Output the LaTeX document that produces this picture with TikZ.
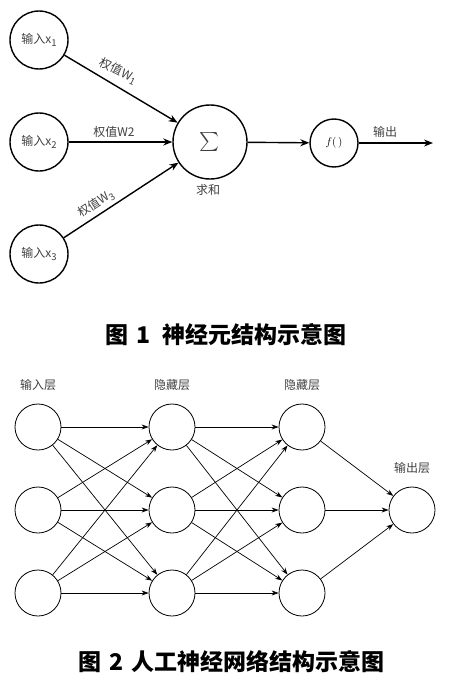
\documentclass[tikz,border=0pt]{standalone}
\usepackage{fontspec}
\setmainfont{Noto Sans CJK SC}
\usetikzlibrary{arrows.meta}
\newcommand{\lowsub}[1]{\raisebox{-2.5pt}{\fontsize{9.5}{10}\selectfont #1}}
\begin{document}
\begin{tikzpicture}[x=1pt,y=-1pt,
  neuron/.style={draw, circle, line width=1.4pt, minimum size=58pt, inner sep=0pt},
  unit/.style={draw, circle, line width=0.8pt, minimum size=46pt, inner sep=0pt},
  link/.style={-{Stealth[length=9pt,width=7pt]}, line width=1.4pt},
  edge/.style={-{Stealth[length=7pt,width=5pt]}, line width=0.7pt},
  lbl/.style={font=\fontsize{12}{14}\selectfont, text=black!75},
  caption/.style={font=\fontsize{23}{26}\selectfont\bfseries}]
\useasboundingbox (0,0) rectangle (468,685);

% neuron
\node[neuron, lbl] (x1) at (39,40) {输入x\lowsub{1}};
\node[neuron, lbl] (x2) at (39,142) {输入x\lowsub{2}};
\node[neuron, lbl] (x3) at (39,254) {输入x\lowsub{3}};
\node[neuron, minimum size=74pt, text=black!75] (sum) at (210,142) {\scalebox{1.9}{$\sum$}};
\node[neuron, minimum size=48pt] (f) at (334,143) {\scalebox{1.1}{$f(\,)$}};
\coordinate (out) at (433,143);

\node[lbl] (sumlbl) at (208,190) {求和};
\node[lbl] (outlbl) at (385,132) {输出};
\node[lbl, rotate=-26] (w1) at (118,71) {权值W\lowsub{1}};
\node[lbl] (w2) at (114,132) {权值W2};
\node[lbl, rotate=33] (w3) at (96,204) {权值W\lowsub{3}};

\draw[link] (x1) -- (sum);
\draw[link] (x2) -- (sum);
\draw[link] (x3) -- (sum);
\draw[link] (sum) -- (f);
\draw[link] (f) -- (out);

\node[caption] (cap1) at (226,335) {图\hspace{8pt}1\hspace{12pt}神经元结构示意图};

% network
\foreach \r/\y in {1/427,2/510,3/593} {
  \node[unit] (a\r) at (38,\y) {};
  \node[unit] (b\r) at (172,\y) {};
  \node[unit] (c\r) at (302,\y) {};
}
\node[unit] (o) at (412,510) {};

\node[lbl] (la) at (38,385) {输入层};
\node[lbl] (lb) at (172,385) {隐藏层};
\node[lbl] (lc) at (302,385) {隐藏层};
\node[lbl] (lo) at (412,468) {输出层};

\foreach \i in {1,2,3} {
  \foreach \j in {1,2,3} {
    \draw[edge] (a\i) -- (b\j);
    \draw[edge] (b\i) -- (c\j);
  }
  \draw[edge] (c\i) -- (o);
}

\node[caption] (cap2) at (232,662) {图\hspace{8pt}2\hspace{8pt}人工神经网络结构示意图};
\end{tikzpicture}
\end{document}
